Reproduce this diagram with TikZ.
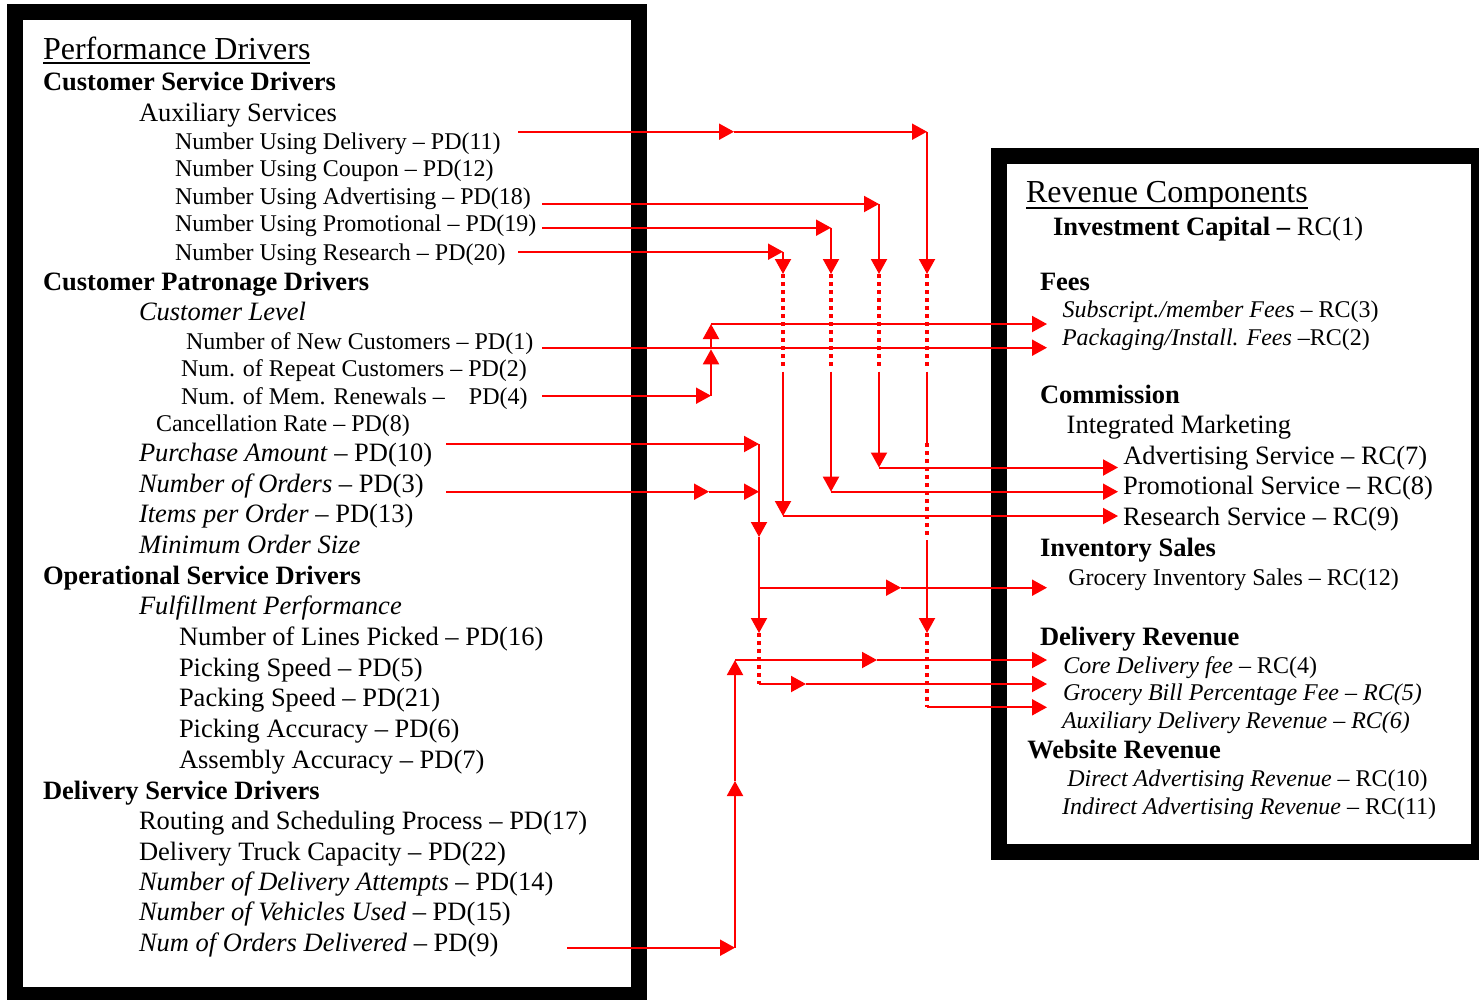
\documentclass[tikz,border=0pt]{standalone}
\usepackage{fontspec}
\setmainfont{Liberation Serif}
\usetikzlibrary{arrows.meta}
\begin{document}
\begin{tikzpicture}[x=1pt,y=-1pt,
  txt/.style={anchor=base west,inner sep=0pt,outer sep=0pt},
  ttl/.style={txt,font=\fontsize{32}{36}\selectfont},
  big/.style={txt,font=\fontsize{26.5}{30}\selectfont},
  hd/.style={txt,font=\fontsize{26.5}{30}\selectfont\bfseries},
  sml/.style={txt,font=\fontsize{24}{28}\selectfont},
  frame/.style={draw=black,line width=16pt},
  link/.style={draw=red,line width=2pt},
  arr/.style={link,-{Triangle[length=15pt,width=16pt]}},
  dots/.style={draw=red,line width=3.5pt,dash pattern=on 3.5pt off 4.5pt}
]
\useasboundingbox (0,0) rectangle (1479,999);

% two framed panels
\draw[frame] (15,12) rectangle (639,995);
\draw[frame] (999,156) rectangle (1479,852);

% ---------- performance drivers ----------
\node[ttl] (pdt) at (43,59) {Performance Drivers};
\draw[line width=2pt] ([yshift=-4pt]pdt.base west) -- ([yshift=-4pt]pdt.base east);
\node[hd]  (csd) at (43,90.7) {Customer Service Drivers};
\node[big] (aux) at (139,121.7) {Auxiliary Services};
\node[sml] (pd11) at (175,149) {Number Using Delivery \textendash{} PD(11)};
\node[sml] (pd12) at (175,176.7) {Number Using Coupon \textendash{} PD(12)};
\node[sml] (pd18) at (175,204.3) {Number Using Advertising \textendash{} PD(18)};
\node[sml] (pd19) at (175,231.7) {Number Using Promotional \textendash{} PD(19)};
\node[sml] (pd20) at (175,260) {Number Using Research \textendash{} PD(20)};
\node[hd]  (cpd) at (43,290.7) {Customer Patronage Drivers};
\node[big,font=\fontsize{26.5}{30}\selectfont\itshape] (cl) at (139,320.7) {Customer Level};
\node[sml] (pd1) at (186,349) {Number of New Customers \textendash{} PD(1)};
\node[sml] (pd2) at (181,376) {Num. of Repeat Customers \textendash{} PD(2)};
\node[sml] (pd4) at (181,404) {Num. of Mem. Renewals \textendash{}\hspace{18pt} PD(4)};
\node[sml] (pd8) at (156,431.7) {Cancellation Rate \textendash{} PD(8)};
\node[big] (pd10) at (139,461.7) {\textit{Purchase Amount} \textendash{} PD(10)};
\node[big] (pd3) at (139,492.3) {\textit{Number of Orders} \textendash{} PD(3)};
\node[big] (pd13) at (139,522.3) {\textit{Items per Order} \textendash{} PD(13)};
\node[big] (mos) at (139,553.3) {\textit{Minimum Order Size}};
\node[hd]  (osd) at (43,584) {Operational Service Drivers};
\node[big] (ffp) at (139,614) {\textit{Fulfillment Performance}};
\node[big] (pd16) at (179,645) {Number of Lines Picked \textendash{} PD(16)};
\node[big] (pd5) at (179,676.5) {Picking Speed \textendash{} PD(5)};
\node[big] (pd21) at (179,706.7) {Packing Speed \textendash{} PD(21)};
\node[big] (pd6) at (179,737.3) {Picking Accuracy \textendash{} PD(6)};
\node[big] (pd7) at (179,768.3) {Assembly Accuracy \textendash{} PD(7)};
\node[hd]  (dsd) at (43,799) {Delivery Service Drivers};
\node[big] (pd17) at (139,829.3) {Routing and Scheduling Process \textendash{} PD(17)};
\node[big] (pd22) at (139,860) {Delivery Truck Capacity \textendash{} PD(22)};
\node[big] (pd14) at (139,890.7) {\textit{Number of Delivery Attempts} \textendash{} PD(14)};
\node[big] (pd15) at (139,920.7) {\textit{Number of Vehicles Used} \textendash{} PD(15)};
\node[big] (pd9) at (139,951.7) {\textit{Num of Orders Delivered} \textendash{} PD(9)};

% ---------- revenue components ----------
\node[ttl] (rct) at (1026,202.7) {Revenue Components};
\draw[line width=2pt] ([yshift=-5pt]rct.base west) -- ([yshift=-5pt]rct.base east);
\node[big] (rc1) at (1053,235) {\textbf{Investment Capital \textendash{}} RC(1)};
\node[hd]  (fees) at (1040,290) {Fees};
\node[sml] (rc3) at (1062.7,317.3) {\textit{Subscript./member Fees} \textendash{} RC(3)};
\node[sml] (rc2) at (1062,345) {\textit{Packaging/Install. Fees} \textendash{}RC(2)};
\node[hd]  (com) at (1040,403.3) {Commission};
\node[big] (im) at (1066.7,433.3) {Integrated Marketing};
\node[big] (rc7) at (1123.3,464) {Advertising Service \textendash{} RC(7)};
\node[big] (rc8) at (1123,494) {Promotional Service \textendash{} RC(8)};
\node[big] (rc9) at (1123,525) {Research Service \textendash{} RC(9)};
\node[hd]  (inv) at (1040,556.7) {Inventory Sales};
\node[sml] (rc12) at (1068.3,585) {Grocery Inventory Sales \textendash{} RC(12)};
\node[hd]  (drv) at (1040,645) {Delivery Revenue};
\node[sml] (rc4) at (1063.3,673.3) {\textit{Core Delivery fee} \textendash{} RC(4)};
\node[sml] (rc5) at (1063,700) {\textit{Grocery Bill Percentage Fee \textendash{} RC(5)}};
\node[sml] (rc6) at (1062,728.3) {\textit{Auxiliary Delivery Revenue \textendash{} RC(6)}};
\node[hd]  (wr) at (1027.3,758.3) {Website Revenue};
\node[sml] (rc10) at (1067.3,786.7) {\textit{Direct Advertising Revenue} \textendash{} RC(10)};
\node[sml] (rc11) at (1062,814.3) {\textit{Indirect Advertising Revenue} \textendash{} RC(11)};

% ---------- connector points ----------
% line starts beside the driver texts
\coordinate (o11) at (518,131.7);
\coordinate (o18) at (542,204);
\coordinate (o19) at (542,227.7);
\coordinate (o20) at (518,251.7);
\coordinate (o1)  at (542,347.7);
\coordinate (o4)  at (542,395.7);
\coordinate (o10) at (446,444);
\coordinate (o3)  at (446,491.7);
\coordinate (o9)  at (567,947.7);
% entry points at the revenue texts
\coordinate (i3)  at (1047,324);
\coordinate (i2)  at (1047,347.7);
\coordinate (i7)  at (1118,467.5);
\coordinate (i8)  at (1118,491.7);
\coordinate (i9)  at (1118,516);
\coordinate (i12) at (1047,587.7);
\coordinate (i4)  at (1047,660);
\coordinate (i5)  at (1047,684);
\coordinate (i6)  at (1047,707.3);

% auxiliary services -> integrated marketing / delivery
\coordinate (m11) at (734,131.7);
\coordinate (c11) at (927,131.7);
\coordinate (c18) at (879,204);
\coordinate (c19) at (831,227.7);
\coordinate (c20) at (783,251.7);
\draw[arr] (o11) -- (m11);
\draw[arr] (m11) -- (c11);
\draw[arr] (o18) -- (c18);
\draw[arr] (o19) -- (c19);
\draw[arr] (o20) -- (c20);
\foreach \n/\x in {11/927,18/879,19/831,20/783}{
  \coordinate (d\n) at (\x,274);
  \coordinate (e\n) at (\x,366);
  \coordinate (f\n) at (\x,371.7);
}
\draw[arr] (c11) -- (d11);
\draw[arr] (c18) -- (d18);
\draw[arr] (c19) -- (d19);
\draw[arr] (c20) -- (d20);
\draw[dots] (d11) -- (e11);
\draw[dots] (d18) -- (e18);
\draw[dots] (d19) -- (e19);
\draw[dots] (d20) -- (e20);
\coordinate (g18) at (879,467.5);
\coordinate (g19) at (831,491.7);
\coordinate (g20) at (783,516);
\draw[arr] (f18) -- (g18);
\draw[arr] (f19) -- (g19);
\draw[arr] (f20) -- (g20);
\draw[arr] (g18) -- (i7);
\draw[arr] (g19) -- (i8);
\draw[arr] (g20) -- (i9);
\coordinate (h11a) at (927,443);
\coordinate (h11b) at (927,538);
\coordinate (h11c) at (927,540);
\coordinate (h11d) at (927,633);
\coordinate (h11e) at (927,707.3);
\draw[link] (f11) -- (h11a);
\draw[dots] (h11a) -- (h11b);
\draw[arr] (h11c) -- (h11d);
\draw[dots] (h11d) -- (h11e);
\draw[arr] (h11e) -- (i6);

% customer level -> fees
\coordinate (p4)  at (711,395.7);
\coordinate (q4)  at (711,349.3);
\coordinate (r4)  at (711,324);
\draw[arr] (o1) -- (i2);
\draw[arr] (o4) -- (p4);
\draw[arr] (p4) -- (q4);
\draw[arr] (q4) -- (r4);
\draw[arr] (r4) -- (i3);

% purchase amount / number of orders -> inventory and delivery revenue
\coordinate (p10) at (759,444);
\coordinate (m3)  at (709,491.7);
\coordinate (p3)  at (759,491.7);
\coordinate (v1)  at (759,537);
\coordinate (v2)  at (759,633);
\coordinate (vb)  at (759,587.7);
\coordinate (mb)  at (901,587.7);
\coordinate (v3)  at (759,684);
\coordinate (mv)  at (806,684);
\draw[arr] (o10) -- (p10);
\draw[arr] (o3) -- (m3);
\draw[arr] (m3) -- (p3);
\draw[arr] (p10) -- (v1);
\draw[arr] (v1) -- (v2);
\draw[arr] (vb) -- (mb);
\draw[arr] (mb) -- (i12);
\draw[dots] (v2) -- (v3);
\draw[arr] (v3) -- (mv);
\draw[arr] (mv) -- (i5);

% orders delivered -> core delivery fee
\coordinate (p9) at (735,947.7);
\coordinate (q9) at (735,781);
\coordinate (r9) at (735,660);
\coordinate (m9) at (877,660);
\draw[arr] (o9) -- (p9);
\draw[arr] (p9) -- (q9);
\draw[arr] (q9) -- (r9);
\draw[arr] (r9) -- (m9);
\draw[arr] (m9) -- (i4);
\end{tikzpicture}
\end{document}
